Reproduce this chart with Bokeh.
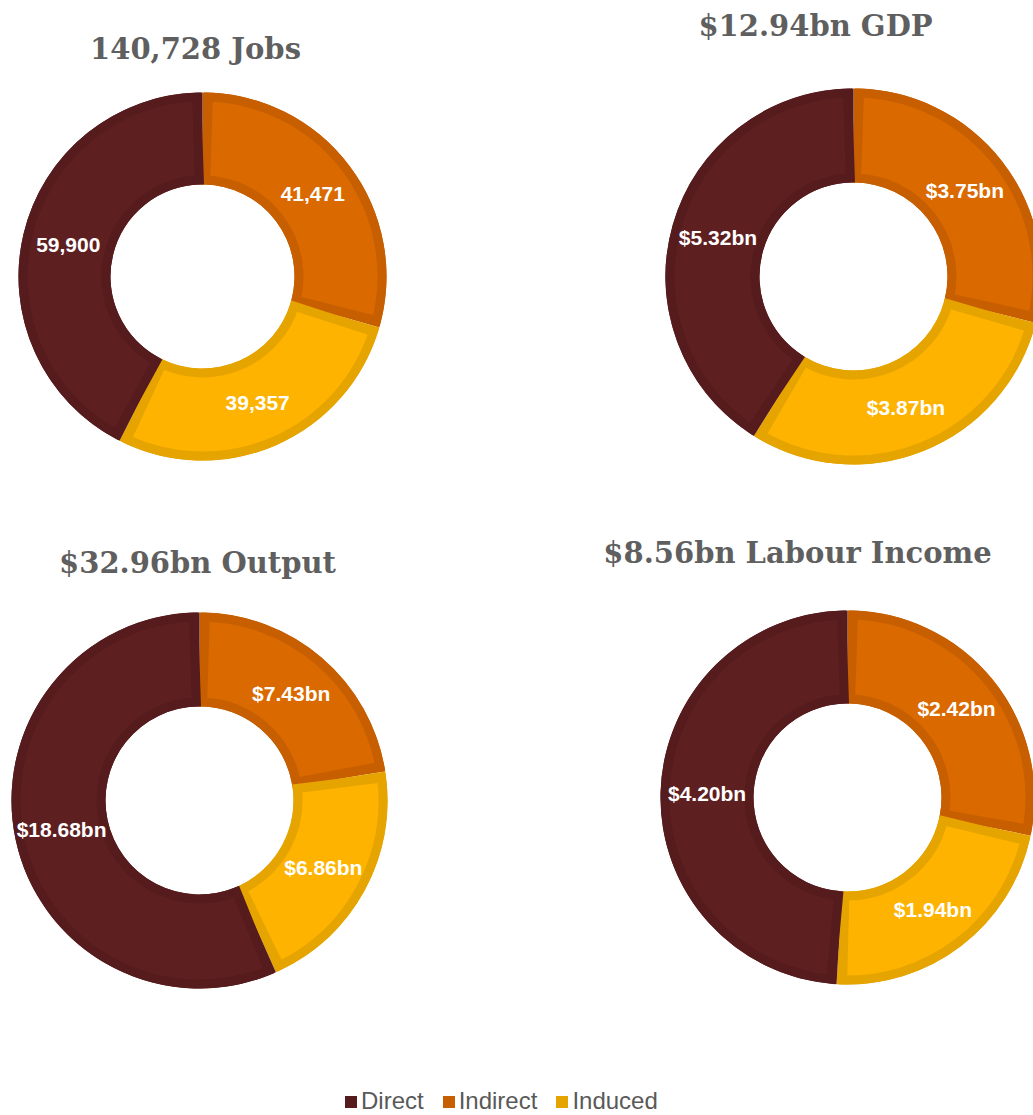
import math
from bokeh.plotting import figure
from bokeh.models import Range1d, ColumnDataSource, Legend, LegendItem
from bokeh.core.properties import value
from bokeh.embed import file_html
from bokeh.resources import INLINE

# ---------------- data ----------------
categories = ["Direct", "Indirect", "Induced"]
titles = ["140,728 Jobs", "$12.94bn GDP", "$32.96bn Output", "$8.56bn Labour Income"]
jobs = [59900, 41471, 39357]
gdp = [5.32, 3.75, 3.87]
output = [18.68, 7.43, 6.86]
labour_income = [4.20, 2.42, 1.94]
jobs_labels = ["59,900", "41,471", "39,357"]
gdp_labels = ["$5.32bn", "$3.75bn", "$3.87bn"]
output_labels = ["$18.68bn", "$7.43bn", "$6.86bn"]
labour_labels = ["$4.20bn", "$2.42bn", "$1.94bn"]

fill_colors = ["#5E1F21", "#DA6900", "#FDB300"]
edge_colors = ["#561B1D", "#C75F00", "#E6A400"]

# ---------------- layout (page pixels) ----------------
W, H = 1033, 1115
p = figure(width=W, height=H, output_backend="svg", toolbar_location=None,
           x_range=Range1d(0, W), y_range=Range1d(-H, 0),
           min_border=0, outline_line_color=None)
p.axis.visible = False
p.grid.visible = False
p.background_fill_color = "white"
p.border_fill_color = "white"

charts = [
    dict(vals=jobs, labels=jobs_labels, title=titles[0], cx=202, cy=276, ro=184, ri=92, tx=195, ty=48),
    dict(vals=gdp, labels=gdp_labels, title=titles[1], cx=853, cy=276, ro=188, ri=94, tx=815, ty=25),
    dict(vals=output, labels=output_labels, title=titles[2], cx=199, cy=800, ro=188, ri=94, tx=197, ty=562),
    dict(vals=labour_income, labels=labour_labels, title=titles[3], cx=847, cy=797, ro=187, ri=94, tx=797, ty=552),
]

BW = 9.0  # border width (drawn inside each slice)
legend_src = None

for c in charts:
    vals = c["vals"]
    total = sum(vals)
    # clockwise from 12 o'clock: Indirect, Induced, Direct
    order = [1, 2, 0]
    cum = 0.0
    xs, ys, sa0, ea0, sa, ea, fc, lc, lx, ly, lt = [], [], [], [], [], [], [], [], [], [], []
    rmid = (c["ri"] + c["ro"]) / 2.0
    d = (BW / 2.0) / rmid
    for i in order:
        a0 = math.pi / 2 - 2 * math.pi * cum / total
        cum += vals[i]
        a1 = math.pi / 2 - 2 * math.pi * cum / total
        xs.append(c["cx"]); ys.append(-c["cy"])
        sa0.append(a1); ea0.append(a0)
        sa.append(a1 + d); ea.append(a0 - d)
        fc.append(fill_colors[i]); lc.append(edge_colors[i])
        am = (a0 + a1) / 2
        lx.append(c["cx"] + rmid * math.cos(am))
        ly.append(-c["cy"] + rmid * math.sin(am))
        lt.append(c["labels"][i])
    src = ColumnDataSource(dict(x=xs, y=ys, sa0=sa0, ea0=ea0, sa=sa, ea=ea, fc=fc, lc=lc))
    base = p.annular_wedge(x="x", y="y", inner_radius=c["ri"], outer_radius=c["ro"],
                           start_angle="sa0", end_angle="ea0", fill_color="lc", line_color=None,
                           source=src)
    if legend_src is None:
        legend_src = (base, order)
    p.annular_wedge(x="x", y="y", inner_radius=c["ri"] + BW / 2, outer_radius=c["ro"] - BW / 2,
                    start_angle="sa", end_angle="ea", fill_color="fc", line_color="lc",
                    line_width=BW, line_join="miter", source=src)
    p.text(x=lx, y=ly, text=lt, text_align="center", text_baseline="middle",
           text_color="white", text_font=value("Liberation Sans"), text_font_style="bold",
           text_font_size="21px")
    p.text(x=[c["tx"]], y=[-c["ty"]], text=[c["title"]], text_align="center",
           text_baseline="middle", text_color="#5F5F5F", text_font=value("DejaVu Serif"),
           text_font_style="bold", text_font_size="29px")

# legend with square swatches (uses the first chart's slices)
base_r, order = legend_src
items = [LegendItem(label=cat, renderers=[base_r], index=order.index(k))
         for k, cat in enumerate(categories)]
legend = Legend(items=items, orientation="horizontal", location=(343, 0),
                border_line_color=None, background_fill_alpha=0,
                label_text_font="Liberation Sans", label_text_font_size="24px",
                label_text_color="#595959", glyph_width=15, glyph_height=15,
                label_standoff=3, spacing=17, padding=0, margin=0)
p.add_layout(legend, "center")

open("out.html", "w").write(file_html(p, INLINE))
